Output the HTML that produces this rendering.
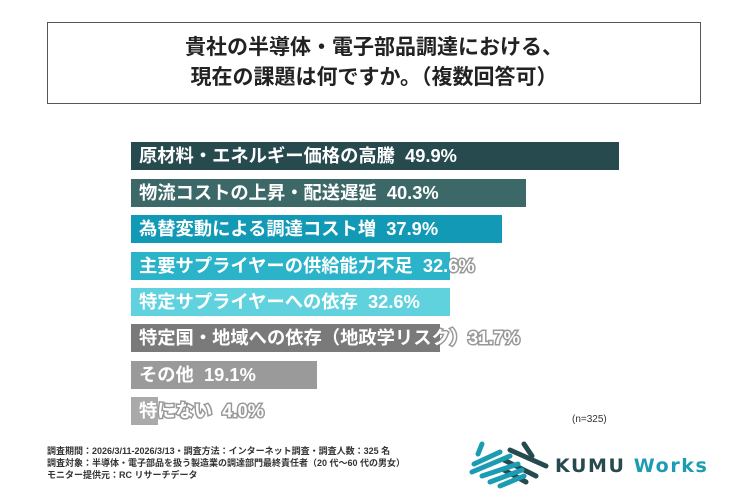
<!DOCTYPE html>
<html><head><meta charset="utf-8"><style>
body{margin:0;width:750px;height:500px;background:#fff;position:relative;overflow:hidden;font-family:"Liberation Sans","Noto Sans CJK JP",sans-serif}
.title{position:absolute;left:47px;top:22px;width:654px;height:82px;border:1px solid #555;box-sizing:border-box;text-align:center;font-weight:bold;font-size:21px;line-height:30px;padding-top:10px;color:#222}
.bar{position:absolute;left:131px;height:28px;overflow:hidden}
.lb,.in{position:absolute;height:28px;line-height:28px;font-weight:bold;font-size:18.3px;white-space:nowrap;color:#fff}
.lb{left:139px;-webkit-text-stroke:3px #999;paint-order:stroke fill}
.in{left:8px;top:0}
.foot{position:absolute;left:47px;top:445px;font-size:9px;line-height:12px;color:#333;font-weight:bold}
</style></head><body>
<div class="title">貴社の半導体・電子部品調達における、<br>現在の課題は何ですか。（複数回答可）</div>

<div class="lb" style="top:142px">原材料・エネルギー価格の高騰&nbsp; 49.9%</div>
<div class="bar" style="top:142px;width:488px;background:#264a4e"><div class="in">原材料・エネルギー価格の高騰&nbsp; 49.9%</div></div>
<div class="lb" style="top:179px">物流コストの上昇・配送遅延&nbsp; 40.3%</div>
<div class="bar" style="top:179px;width:395px;background:#3d6868"><div class="in">物流コストの上昇・配送遅延&nbsp; 40.3%</div></div>
<div class="lb" style="top:215px">為替変動による調達コスト増&nbsp; 37.9%</div>
<div class="bar" style="top:215px;width:371px;background:#1199b5"><div class="in">為替変動による調達コスト増&nbsp; 37.9%</div></div>
<div class="lb" style="top:252px">主要サプライヤーの供給能力不足&nbsp; 32.6%</div>
<div class="bar" style="top:252px;width:319px;background:#2ab3c9"><div class="in">主要サプライヤーの供給能力不足&nbsp; 32.6%</div></div>
<div class="lb" style="top:288px">特定サプライヤーへの依存&nbsp; 32.6%</div>
<div class="bar" style="top:288px;width:319px;background:#5fd2de"><div class="in">特定サプライヤーへの依存&nbsp; 32.6%</div></div>
<div class="lb" style="top:324px">特定国・地域への依存（地政学リスク）31.7%</div>
<div class="bar" style="top:324px;width:309px;background:#7a7a7a"><div class="in">特定国・地域への依存（地政学リスク）31.7%</div></div>
<div class="lb" style="top:361px">その他&nbsp; 19.1%</div>
<div class="bar" style="top:361px;width:186px;background:#9a9a9a"><div class="in">その他&nbsp; 19.1%</div></div>
<div class="lb" style="top:397px">特にない&nbsp; 4.0%</div>
<div class="bar" style="top:397px;width:27px;background:#aaa"><div class="in">特にない&nbsp; 4.0%</div></div>

<div style="position:absolute;left:572px;top:414px;font-size:10px;color:#333">(n=325)</div>
<div class="foot">調査期間：2026/3/11-2026/3/13・調査方法：インターネット調査・調査人数：325 名<br>調査対象：半導体・電子部品を扱う製造業の調達部門最終責任者（20 代～60 代の男女）<br>モニター提供元：RC リサーチデータ</div>
<svg style="position:absolute;left:468px;top:438px" width="86" height="52" viewBox="0 0 86 52">
<g stroke-linecap="round" stroke-width="5">
<line x1="56" y1="6" x2="64" y2="18" stroke="#264a4e"/>
<line x1="42" y1="12" x2="78" y2="28" stroke="#264a4e"/>
<line x1="36" y1="22" x2="68" y2="38" stroke="#264a4e"/>
<line x1="36" y1="32" x2="58" y2="44" stroke="#264a4e"/>
<line x1="14" y1="6" x2="10" y2="16" stroke="#1b9cb3"/>
<line x1="6" y1="26" x2="32" y2="14" stroke="#1b9cb3"/>
<line x1="4" y1="34" x2="42" y2="18" stroke="#1b9cb3"/>
<line x1="14" y1="38" x2="50" y2="26" stroke="#1b9cb3"/>
<line x1="22" y1="44" x2="54" y2="32" stroke="#1b9cb3"/>
<line x1="32" y1="48" x2="56" y2="38" stroke="#1b9cb3"/>
</g></svg>
<div style="position:absolute;left:555px;top:455px;font-size:19px;font-weight:bold;letter-spacing:1.6px;color:#264a4e;font-family:'DejaVu Sans','Liberation Sans',sans-serif">KUMU <span style="color:#1b9cb3">Works</span></div>
</body></html>
